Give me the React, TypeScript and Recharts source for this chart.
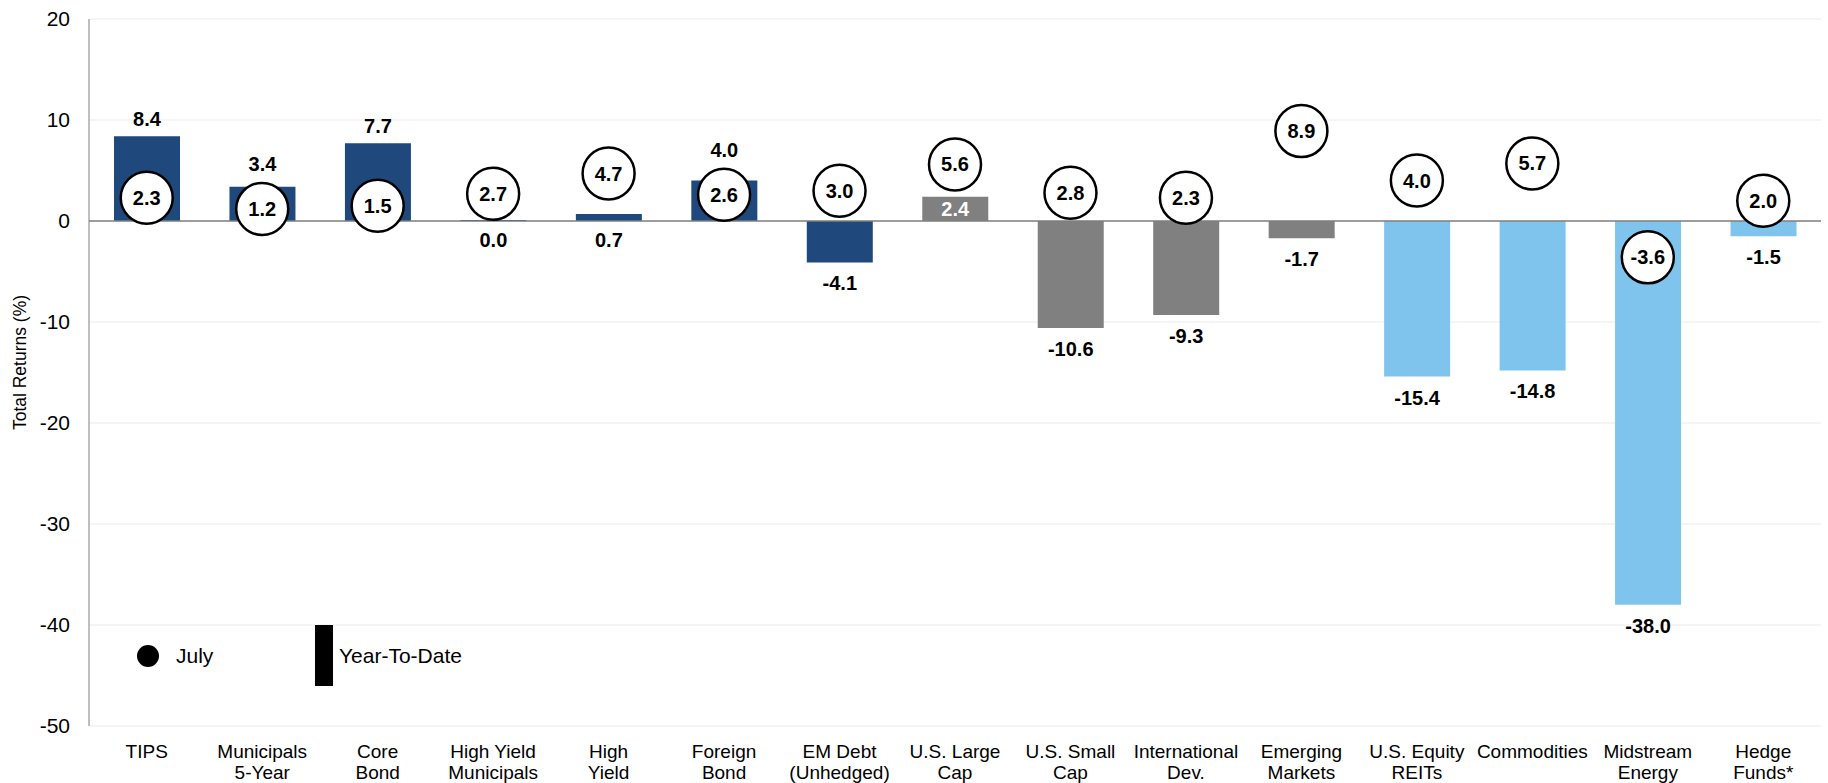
// Asset class returns: YTD bars with July circles (recharts)
import { ComposedChart, Bar, Line, XAxis, YAxis, CartesianGrid, ReferenceLine, LabelList, Cell } from 'recharts';

const categories = [
  'TIPS',
  'Municipals\n5-Year',
  'Core\nBond',
  'High Yield\nMunicipals',
  'High\nYield',
  'Foreign\nBond',
  'EM Debt\n(Unhedged)',
  'U.S. Large\nCap',
  'U.S. Small\nCap',
  'International\nDev.',
  'Emerging\nMarkets',
  'U.S. Equity\nREITs',
  'Commodities',
  'Midstream\nEnergy',
  'Hedge\nFunds*',
];
const ytd = [8.4, 3.4, 7.7, 0.0, 0.7, 4.0, -4.1, 2.4, -10.6, -9.3, -1.7, -15.4, -14.8, -38.0, -1.5];
const july = [2.3, 1.2, 1.5, 2.7, 4.7, 2.6, 3.0, 5.6, 2.8, 2.3, 8.9, 4.0, 5.7, -3.6, 2.0];
const groups = ['bond', 'bond', 'bond', 'bond', 'bond', 'bond', 'bond', 'equity', 'equity', 'equity', 'equity', 'real', 'real', 'real', 'real'];
const yTicks = [-50, -40, -30, -20, -10, 0, 10, 20];

const groupColors: Record<string, string> = { bond: '#1f497d', equity: '#808080', real: '#7fc4ec' };
const FONT = '"Liberation Sans", Arial, sans-serif';
const DOT_R = 26;

const data = categories.map((name, i) => ({ name, ytd: ytd[i], july: july[i] }));

const CategoryTick = (props: any) => {
  const { x, y, payload } = props;
  const lines = String(payload.value).split('\n');
  return (
    <g transform={`translate(${x},${y})`}>
      {lines.map((ln, k) => (
        <text key={k} x={0} y={24 + k * 21} textAnchor="middle" fontSize={19} fontFamily={FONT} fill="#000">
          {ln}
        </text>
      ))}
    </g>
  );
};

// label content is keyed by category name, so zero-height bars don't shift indices
const YtdLabel = (props: any) => {
  const { x, y, width, height, value } = props;
  const i = categories.indexOf(value);
  if (i < 0) return null;
  const v = ytd[i];
  const top = Math.min(y, y + height);
  const bottom = Math.max(y, y + height);
  const cx = x + width / 2;
  const circleAbove = july[i] > v;
  let ty: number;
  let fill = '#000';
  if (v < 0) {
    ty = bottom + 28;
  } else if (!circleAbove) {
    // keep clear of the July circle sitting inside the bar
    const ppu = (bottom - top) / v;
    const circleTop = bottom - july[i] * ppu - DOT_R - 2;
    ty = Math.min(top, circleTop) - 10;
  } else if (bottom - top > 20) {
    ty = (top + bottom) / 2 + 7;
    fill = '#fff';
  } else {
    ty = bottom + 26;
  }
  return (
    <text x={cx} y={ty} textAnchor="middle" fontSize={20} fontWeight="bold" fontFamily={FONT} fill={fill}>
      {v.toFixed(1)}
    </text>
  );
};

const JulyDot = (props: any) => {
  const { cx, cy, value, index } = props;
  if (cx == null || cy == null) return null;
  return (
    <g key={`dot-${index}`}>
      <circle cx={cx} cy={cy} r={DOT_R} fill="#fff" stroke="#000" strokeWidth={2.5} />
      <text x={cx} y={cy + 7} textAnchor="middle" fontSize={20} fontWeight="bold" fontFamily={FONT} fill="#000">
        {Number(value).toFixed(1)}
      </text>
    </g>
  );
};

const AxisTitle = (props: any) => {
  const { viewBox } = props;
  const cy = viewBox.y + viewBox.height / 2 - 10;
  return (
    <text x={26} y={cy} transform={`rotate(-90, 26, ${cy})`} textAnchor="middle" fontSize={17.5} fontFamily={FONT} fill="#000">
      Total Returns (%)
    </text>
  );
};

export default function App() {
  return (
    <div style={{ position: 'absolute', left: 0, top: 0, width: 1828, height: 783, background: '#fff' }}>
      <ComposedChart width={1828} height={783} data={data} margin={{ top: 19, right: 7, bottom: 0, left: 0 }}>
        <CartesianGrid vertical={false} stroke="#ebebeb" />
        <XAxis dataKey="name" axisLine={false} tickLine={false} height={57} interval={0} tick={<CategoryTick />} />
        <YAxis
          domain={[-50, 20]}
          ticks={yTicks}
          width={89}
          axisLine={{ stroke: '#7f7f7f' }}
          tickLine={false}
          tickSize={0}
          tickMargin={19}
          tick={{ fontSize: 21, fontFamily: FONT, fill: '#000' }}
          label={<AxisTitle />}
        />
        <Bar dataKey="ytd" barSize={66} minPointSize={1} isAnimationActive={false}>
          {data.map((d, i) => (
            <Cell key={d.name} fill={groupColors[groups[i]]} />
          ))}
          <LabelList dataKey="name" content={<YtdLabel />} />
        </Bar>
        <ReferenceLine y={0} stroke="#7f7f7f" strokeWidth={1.5} />
        <Line dataKey="july" stroke="none" dot={JulyDot} activeDot={false} isAnimationActive={false} />
      </ComposedChart>
      <svg style={{ position: 'absolute', left: 0, top: 0 }} width={500} height={783}>
        <circle cx={148} cy={656} r={11} fill="#000" />
        <text x={176} y={663} fontSize={21} fontFamily={FONT} fill="#000">July</text>
        <rect x={315} y={625} width={18} height={61} fill="#000" />
        <text x={339} y={663} fontSize={21} fontFamily={FONT} fill="#000">Year-To-Date</text>
      </svg>
    </div>
  );
}
